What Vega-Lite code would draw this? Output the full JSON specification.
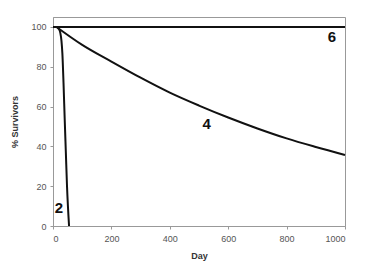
{
  "$schema": "https://vega.github.io/schema/vega-lite/v6.json",
  "autosize": "none",
  "width": 292,
  "height": 209,
  "padding": {"left": 53, "top": 17, "right": 22, "bottom": 52},
  "background": "white",
  "config": {
    "view": {"stroke": "#999999", "strokeWidth": 1},
    "font": "Liberation Sans",
    "axis": {"grid": false, "domainColor": "#999999", "tickColor": "#999999", "labelColor": "#555555", "titleColor": "#333333", "labelFontSize": 9, "titleFontSize": 9, "tickSize": 3}
  },
  "datasets": {
    "curves": [
      {"day": 12, "pct": 100, "s": "2"},
      {"day": 20, "pct": 99, "s": "2"},
      {"day": 25, "pct": 97, "s": "2"},
      {"day": 29, "pct": 93, "s": "2"},
      {"day": 32, "pct": 87, "s": "2"},
      {"day": 36, "pct": 72, "s": "2"},
      {"day": 40, "pct": 54, "s": "2"},
      {"day": 44, "pct": 37, "s": "2"},
      {"day": 48, "pct": 20, "s": "2"},
      {"day": 55, "pct": 0, "s": "2"},
      {"day": 12, "pct": 100, "s": "4"},
      {"day": 100, "pct": 91, "s": "4"},
      {"day": 200, "pct": 82.6, "s": "4"},
      {"day": 300, "pct": 74.5, "s": "4"},
      {"day": 400, "pct": 67, "s": "4"},
      {"day": 500, "pct": 60.5, "s": "4"},
      {"day": 600, "pct": 54.5, "s": "4"},
      {"day": 700, "pct": 49, "s": "4"},
      {"day": 800, "pct": 44, "s": "4"},
      {"day": 900, "pct": 39.7, "s": "4"},
      {"day": 1000, "pct": 35.7, "s": "4"},
      {"day": 0, "pct": 100, "s": "6"},
      {"day": 1000, "pct": 100, "s": "6"}
    ],
    "labels": [
      {"day": 20, "pct": 9, "t": "2"},
      {"day": 526, "pct": 51, "t": "4"},
      {"day": 955, "pct": 95, "t": "6"}
    ]
  },
  "layer": [
    {
      "data": {"name": "curves"},
      "mark": {"type": "line", "color": "#111111", "strokeWidth": 2, "interpolate": "monotone"},
      "encoding": {
        "x": {"field": "day", "type": "quantitative", "scale": {"domain": [0, 1000], "nice": false}, "axis": {"values": [0, 200, 400, 600, 800, 1000], "format": "d", "title": "Day", "titleFontWeight": "bold", "titlePadding": 8, "labelPadding": 5}},
        "y": {"field": "pct", "type": "quantitative", "scale": {"domain": [0, 105], "nice": false}, "axis": {"values": [0, 20, 40, 60, 80, 100], "title": "% Survivors", "titleFontWeight": "bold", "titlePadding": 11, "labelPadding": 4}},
        "detail": {"field": "s"}
      }
    },
    {
      "data": {"name": "labels"},
      "mark": {"type": "text", "fontSize": 15, "fontWeight": "bold", "color": "#111111", "font": "Liberation Sans"},
      "encoding": {
        "x": {"field": "day", "type": "quantitative"},
        "y": {"field": "pct", "type": "quantitative"},
        "text": {"field": "t"}
      }
    }
  ]
}
